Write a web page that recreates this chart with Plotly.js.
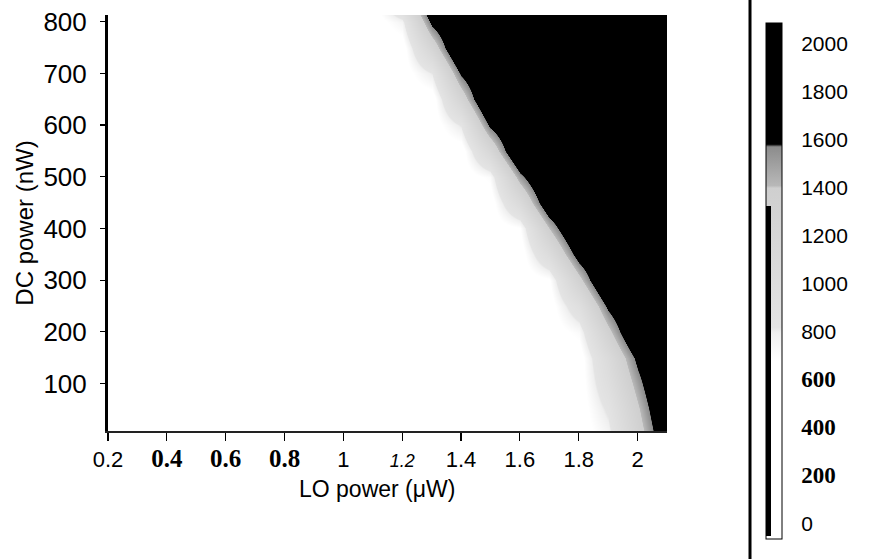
<!DOCTYPE html>
<html>
<head>
<meta charset="utf-8">
<script src="https://cdn.plot.ly/plotly-3.0.1.min.js"></script>
<style>html,body{margin:0;padding:0;background:#fff;}#chart{width:873px;height:559px;}</style>
</head>
<body>
<div id="chart"></div>
<script>
// LO power grid (µW) and DC power grid (nW)
const loPower = [0.2,0.3,0.4,0.5,0.6,0.7,0.8,0.9,1.0,1.1,1.2,1.3,1.4,1.5,1.6,1.7,1.8,1.9,2.0,2.1,2.2];
const dcPower = [0,50,100,150,200,250,300,350,400,450,500,550,600,650,700,750,800,850,900];

// Counts, one row per DC power level
const countAt0nW   = [600,600,600,600,600,600,600,600,600,600,600,600,600,600,600,600,600,747,1280,1813,2000];
const countAt50nW  = [600,600,600,600,600,600,600,600,600,600,600,600,600,600,600,600,600,843,1376,1909,2000];
const countAt100nW = [600,600,600,600,600,600,600,600,600,600,600,600,600,600,600,600,600,971,1504,2000,2000];
const countAt150nW = [600,600,600,600,600,600,600,600,600,600,600,600,600,600,600,600,600,1074,1646,2000,2000];
const countAt200nW = [600,600,600,600,600,600,600,600,600,600,600,600,600,600,600,600,714,1329,1945,2000,2000];
const countAt250nW = [600,600,600,600,600,600,600,600,600,600,600,600,600,600,600,600,960,1627,2000,2000,2000];
const countAt300nW = [600,600,600,600,600,600,600,600,600,600,600,600,600,600,600,660,1327,1993,2000,2000,2000];
const countAt350nW = [600,600,600,600,600,600,600,600,600,600,600,600,600,600,600,1040,1707,2000,2000,2000,2000];
const countAt400nW = [600,600,600,600,600,600,600,600,600,600,600,600,600,600,676,1404,2000,2000,2000,2000,2000];
const countAt450nW = [600,600,600,600,600,600,600,600,600,600,600,600,600,600,1091,1818,2000,2000,2000,2000,2000];
const countAt500nW = [600,600,600,600,600,600,600,600,600,600,600,600,600,704,1504,2000,2000,2000,2000,2000,2000];
const countAt550nW = [600,600,600,600,600,600,600,600,600,600,600,600,600,1168,1968,2000,2000,2000,2000,2000,2000];
const countAt600nW = [600,600,600,600,600,600,600,600,600,600,600,600,824,1624,2000,2000,2000,2000,2000,2000,2000];
const countAt650nW = [600,600,600,600,600,600,600,600,600,600,600,600,1240,2000,2000,2000,2000,2000,2000,2000,2000];
const countAt700nW = [600,600,600,600,600,600,600,600,600,600,600,816,1616,2000,2000,2000,2000,2000,2000,2000,2000];
const countAt750nW = [600,600,600,600,600,600,600,600,600,600,600,1224,2000,2000,2000,2000,2000,2000,2000,2000,2000];
const countAt800nW = [600,600,600,600,600,600,600,600,600,600,756,1644,2000,2000,2000,2000,2000,2000,2000,2000,2000];
const countAt850nW = [600,600,600,600,600,600,600,600,600,600,1244,2000,2000,2000,2000,2000,2000,2000,2000,2000,2000];
const countAt900nW = [600,600,600,600,600,600,600,600,600,844,1733,2000,2000,2000,2000,2000,2000,2000,2000,2000,2000];

// Tick labels
const xTickVals = [0.2,0.4,0.6,0.8,1,1.2,1.4,1.6,1.8,2];
const xTickText = ['0.2','0.4','0.6','0.8','1','1.2','1.4','1.6','1.8','2'];
const yTickVals = [100,200,300,400,500,600,700,800];
const cbTickVals = [0,200,400,600,800,1000,1200,1400,1600,1800,2000];
const cbTickText = ['0','200','400','600','800','1000','1200','1400','1600','1800','2000'];

const SERIF = 'Liberation Serif,Times New Roman,serif';
const serifBold = (t, s) => '<span style="font-family:' + SERIF + ';font-size:' + s + 'px"><b>' + t + '</b></span>';
const italicSmall = t => '<span style="font-size:18px"><i>' + t + '</i></span>';
const xTickHtml = xTickText.map(t => (t==='0.4'||t==='0.6'||t==='0.8') ? serifBold(t, 25) : (t==='1.2' ? italicSmall(t) : t));
const cbTickHtml = cbTickText.map(t => (t==='600'||t==='400'||t==='200') ? serifBold(t, 23) : t);

const z = [countAt0nW,countAt50nW,countAt100nW,countAt150nW,countAt200nW,countAt250nW,countAt300nW,countAt350nW,
           countAt400nW,countAt450nW,countAt500nW,countAt550nW,countAt600nW,countAt650nW,countAt700nW,countAt750nW,
           countAt800nW,countAt850nW,countAt900nW];

const font = 'Liberation Sans, Arial, Helvetica, sans-serif';

const trace = {
  type: 'heatmap',
  x: loPower,
  y: dcPower,
  z: z,
  zsmooth: 'best',
  zmin: -65,
  zmax: 2085,
  hoverinfo: 'skip',
  colorscale: [
    [0, '#ffffff'], [0.345, '#ffffff'], [0.40, '#efefef'], [0.41, '#e4e4e4'],
    [0.68, '#cfcfcf'], [0.685, '#b8b8b8'], [0.76, '#8c8c8c'], [0.765, '#000000'], [1, '#000000']
  ],
  colorbar: {
    x: 1.177, xanchor: 'left', xpad: 0,
    y: 0.981, yanchor: 'top', ypad: 0,
    len: 516, lenmode: 'pixels',
    thickness: 16,
    outlinewidth: 1, outlinecolor: '#000',
    tickmode: 'array', tickvals: cbTickVals, ticktext: cbTickHtml,
    ticks: 'outside', ticklen: 15, tickcolor: 'rgba(0,0,0,0)',
    tickfont: {family: font, size: 21, color: '#000'}
  }
};

const layout = {
  width: 873, height: 559,
  margin: {l: 108, r: 206, t: 15, b: 128},
  paper_bgcolor: '#fff', plot_bgcolor: '#fff',
  showlegend: false,
  font: {family: font, color: '#000'},
  xaxis: {
    range: [0.2, 2.1],
    tickmode: 'array', tickvals: xTickVals, ticktext: xTickHtml,
    ticks: 'outside', ticklen: 8, tickwidth: 1.2, tickcolor: '#000',
    showline: true, linecolor: '#222', linewidth: 1.5,
    showgrid: false, zeroline: false,
    tickfont: {family: font, size: 22, color: '#000'}
  },
  yaxis: {
    range: [8, 813],
    tickmode: 'array', tickvals: yTickVals,
    ticks: 'outside', ticklen: 5, tickwidth: 1.2, tickcolor: '#000',
    ticklabelstandoff: 8,
    showline: true, linecolor: '#000', linewidth: 3,
    showgrid: false, zeroline: false,
    tickfont: {family: font, size: 26, color: '#000'},
    title: {text: 'DC power (nW)', font: {family: font, size: 24, color: '#000'}, standoff: 4}
  },
  annotations: [
    {text: 'LO power (μW)', xref: 'paper', yref: 'paper', x: 0.481, y: -0.14,
     xanchor: 'center', yanchor: 'middle', showarrow: false,
     font: {family: font, size: 23, color: '#000'}},
    {text: ' ', xref: 'paper', yref: 'paper', x: 1.177, y: 0.542, xanchor: 'left', yanchor: 'top',
     width: 5, height: 330, bgcolor: '#000', borderpad: 0, borderwidth: 0, showarrow: false}
  ],
  shapes: [
    {type: 'line', xref: 'paper', yref: 'paper', x0: 1.1485, x1: 1.1485, y0: -0.31, y1: 1.04, line: {color: '#000', width: 3}}
  ]
};

Plotly.newPlot('chart', [trace], layout, {displayModeBar: false, staticPlot: true});
</script>
</body>
</html>
